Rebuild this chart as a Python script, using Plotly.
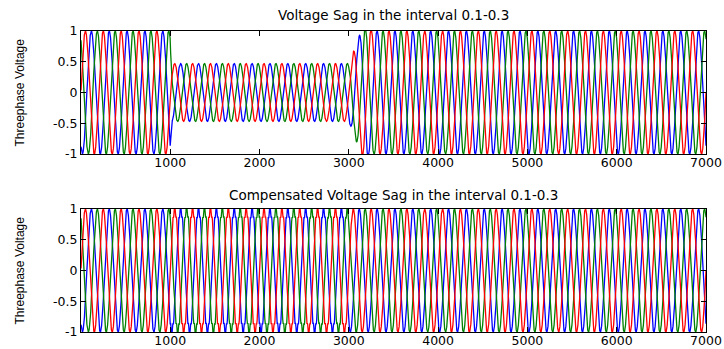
import numpy as np
import plotly.graph_objects as go

# ---- data ----
n_samples = 7000
sample_rate_hz = 10000
frequency_hz = 50
x_ticks = [1000, 2000, 3000, 4000, 5000, 6000, 7000]
y_ticks = [-1, -0.5, 0, 0.5, 1]
y_tick_labels = ["-1", "-0.5", "0", "0.5", "1"]

phase_names = ["blue", "green", "red"]
phase_colors = ["#0000ff", "#008000", "#ff0000"]
phase_shift_deg = [-120, 120, 0]

# amplitude envelope of the sagged voltage (breakpoints and levels)
sag_env_x = [0, 1000, 1015, 3000, 3150, 3300, 7000]
sag_env_amp = [1.0, 1.0, 0.47, 0.47, 1.05, 1.0, 1.0]

# compensated voltage: amplitude and ripple within the sag interval
comp_env_x = [0, 1000, 1001, 3000, 3001, 7000]
comp_env_amp = [1.0, 1.0, 1.0, 1.0, 1.0, 1.0]
comp_ripple_amp = [0.0, 0.0, 0.07, 0.07, 0.0, 0.0]
comp_ripple_harmonic = 9

titles = ["Voltage Sag in the interval 0.1-0.3",
          "Compensated Voltage Sag in the interval 0.1-0.3"]
y_label = "Threephase Voltage"

# ---- build signals ----
n = np.arange(1, n_samples + 1)
wt = 2 * np.pi * frequency_hz * n / sample_rate_hz
sag_amp = np.interp(n, sag_env_x, sag_env_amp)
comp_amp = np.interp(n, comp_env_x, comp_env_amp)
ripple = np.interp(n, comp_env_x, comp_ripple_amp)

fig = go.Figure()
W, H = 724, 349
x0, x1 = 81 / W, 706 / W
panels = [(1 - 154 / H, 1 - 31 / H), (1 - 332 / H, 1 - 209 / H)]

for k, (name, col, ph) in enumerate(zip(phase_names, phase_colors, phase_shift_deg)):
    ang = wt + np.deg2rad(ph)
    v_sag = sag_amp * np.sin(ang)
    v_comp = comp_amp * np.sin(ang) + ripple * np.sin(comp_ripple_harmonic * ang)
    fig.add_trace(go.Scatter(x=n, y=v_sag, mode="lines", line=dict(color=col, width=1.3),
                             xaxis="x", yaxis="y", showlegend=False, hoverinfo="skip"))
    fig.add_trace(go.Scatter(x=n, y=v_comp, mode="lines", line=dict(color=col, width=1.3),
                             xaxis="x2", yaxis="y2", showlegend=False, hoverinfo="skip"))

tickfont = dict(family="DejaVu Sans", size=12.5, color="black")
axis_common = dict(showline=True, linecolor="black", linewidth=1, mirror="ticks",
                   ticks="inside", ticklen=5, tickcolor="black", tickwidth=1,
                   showgrid=False, zeroline=False, tickfont=tickfont)

fig.update_layout(
    width=W, height=H, autosize=False,
    margin=dict(l=0, r=0, t=0, b=0, autoexpand=False),
    paper_bgcolor="white", plot_bgcolor="white",
    xaxis=dict(domain=[x0, x1], range=[1, 7000], tickvals=x_ticks, anchor="y",
               ticklabelstandoff=-3, **axis_common),
    yaxis=dict(domain=list(panels[0]), range=[-1, 1], tickvals=y_ticks, ticktext=y_tick_labels,
               anchor="x", **axis_common),
    xaxis2=dict(domain=[x0, x1], range=[1, 7000], tickvals=x_ticks, anchor="y2",
                ticklabelstandoff=-3, **axis_common),
    yaxis2=dict(domain=list(panels[1]), range=[-1, 1], tickvals=y_ticks, ticktext=y_tick_labels,
                anchor="x2", **axis_common),
)

xc = (x0 + x1) / 2
for title, ypix in zip(titles, [15, 195]):
    fig.add_annotation(text=title, x=xc, y=1 - ypix / H, xref="paper", yref="paper",
                       showarrow=False, xanchor="center", yanchor="middle",
                       font=dict(family="DejaVu Sans", size=13.5, color="black"))
for ypix in [92.5, 270.5]:
    fig.add_annotation(text=y_label, x=19 / W, y=1 - ypix / H, xref="paper", yref="paper",
                       showarrow=False, xanchor="center", yanchor="middle", textangle=-90,
                       font=dict(family="Liberation Sans Narrow, Liberation Sans", size=12, color="black"))

fig.write_html("out.html", config={"displayModeBar": False})
